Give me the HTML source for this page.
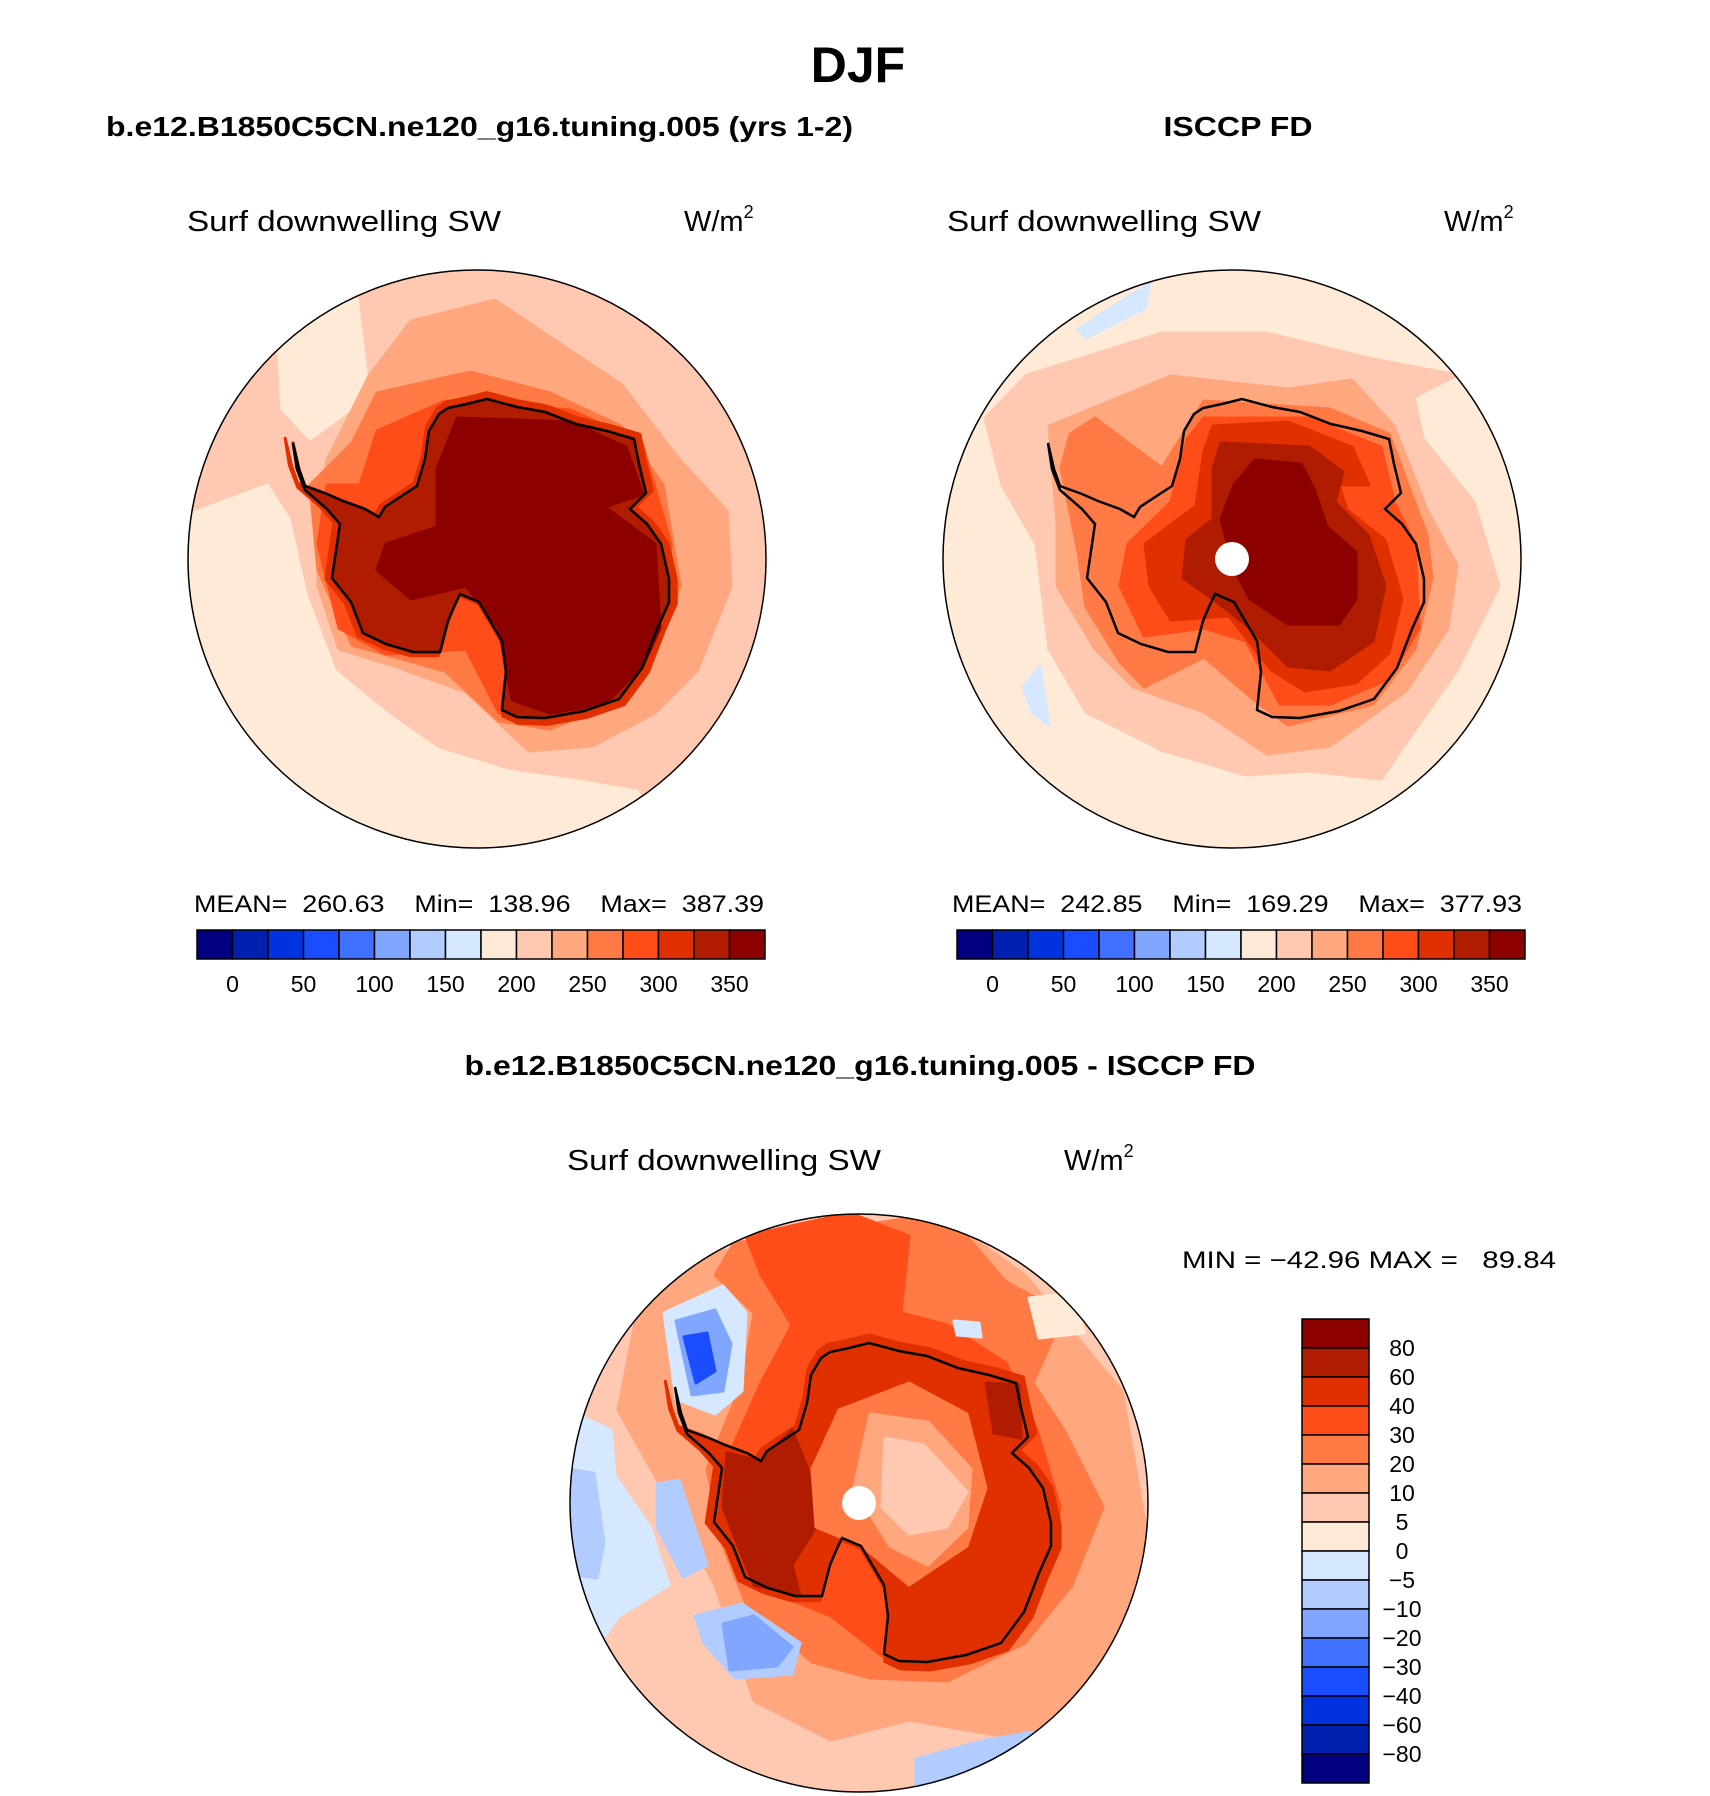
<!DOCTYPE html>
<html><head><meta charset="utf-8"><style>
html,body{margin:0;padding:0;background:#fff;}
svg{display:block;font-family:"Liberation Sans",sans-serif;}
.pre{white-space:pre;}
</style></head><body>
<svg id="root" width="1710" height="1796" viewBox="0 0 1710 1796" xmlns="http://www.w3.org/2000/svg" xml:space="preserve">
<defs>
<clipPath id="clipL"><circle cx="0" cy="0" r="289"/></clipPath>
</defs>
<text x="858" y="82" text-anchor="middle" font-size="50" font-weight="bold">DJF</text>
<text x="106" y="136" font-size="28" font-weight="bold" textLength="747" lengthAdjust="spacingAndGlyphs">b.e12.B1850C5CN.ne120_g16.tuning.005 (yrs 1-2)</text>
<text x="1238" y="136" text-anchor="middle" font-size="28" font-weight="bold" textLength="149" lengthAdjust="spacingAndGlyphs">ISCCP FD</text>

<text x="187" y="231" font-size="29" textLength="314" lengthAdjust="spacingAndGlyphs">Surf downwelling SW</text>
<text x="684" y="231" font-size="29">W/m<tspan font-size="18" dy="-13">2</tspan></text>
<text x="947" y="231" font-size="29" textLength="314" lengthAdjust="spacingAndGlyphs">Surf downwelling SW</text>
<text x="1444" y="231" font-size="29">W/m<tspan font-size="18" dy="-13">2</tspan></text>

<g id="mapL" transform="translate(477,559)"></g>
<g id="mapR" transform="translate(1232,559)"></g>

<text class="pre" x="194" y="912" font-size="24" textLength="570" lengthAdjust="spacingAndGlyphs">MEAN=  260.63    Min=  138.96    Max=  387.39</text>
<text class="pre" x="952" y="912" font-size="24" textLength="570" lengthAdjust="spacingAndGlyphs">MEAN=  242.85    Min=  169.29    Max=  377.93</text>

<g id="cbL"></g>
<g id="cbR"></g>

<text x="860" y="1075" text-anchor="middle" font-size="28" font-weight="bold" textLength="791" lengthAdjust="spacingAndGlyphs">b.e12.B1850C5CN.ne120_g16.tuning.005 - ISCCP FD</text>
<text x="567" y="1170" font-size="29" textLength="314" lengthAdjust="spacingAndGlyphs">Surf downwelling SW</text>
<text x="1064" y="1170" font-size="29">W/m<tspan font-size="18" dy="-13">2</tspan></text>
<text class="pre" x="1182" y="1268" font-size="24" textLength="374" lengthAdjust="spacingAndGlyphs">MIN = −42.96 MAX =   89.84</text>

<g id="mapD" transform="translate(859,1503)"></g>
<g id="cbD"></g>
</svg>
<script>
// ---- colour scales / colorbar data ----
const absColors = ["#000080","#0020b0","#0033e0","#1a4dff","#4070ff","#80a6ff","#b3ccff","#d6e8ff","#ffead8","#ffc8b0","#ffa880","#ff7a45","#ff4d1a","#e03000","#b01c00","#8c0000"];
const absLabels = ["0","50","100","150","200","250","300","350"];
const diffLabels = ["80","60","40","30","20","10","5","0","−5","−10","−20","−30","−40","−60","−80"];

// ---- map contour regions (local coordinates, px relative to pole) ----
const coast = [[-184,-116],[-178,-90],[-172,-73],[-150,-65],[-134,-58],[-112,-50],[-98,-42],[-92,-52],[-83,-58],[-60,-73],[-52,-100],[-48,-128],[-38,-145],[-29,-151],[-10,-155],[10,-160],[40,-152],[68,-147],[99,-135],[130,-128],[157,-120],[162,-95],[169,-66],[153,-50],[170,-35],[184,-15],[192,20],[192,43],[180,70],[165,109],[142,140],[107,152],[68,159],[40,158],[25,151],[29,113],[25,82],[2,43],[-17,35],[-24,50],[-29,62],[-37,93],[-64,93],[-91,85],[-114,74],[-126,43],[-145,19],[-137,-35],[-150,-50],[-172,-69],[-180,-90]];

const leftLayers = [
 ["#ffead8",[[-300,-40],[-210,-74],[-188,-40],[-171,36],[-142,112],[-91,154],[-40,190],[31,212],[94,221],[160,232],[200,300],[-300,300]]],
 ["#ffead8",[[-200,-230],[-120,-260],[-110,-180],[-126,-150],[-167,-120],[-195,-150]]],
 ["#ffa880",[[-66,-238],[18,-259],[94,-208],[144,-175],[203,-99],[250,-48],[254,27],[220,112],[178,154],[115,187],[52,192],[-11,133],[-83,107],[-138,90],[-159,27],[-159,-40],[-150,-99],[-108,-183]]],
 ["#ff7a45",[[-100,-166],[-7,-187],[73,-166],[144,-133],[186,-74],[203,27],[178,95],[136,145],[73,170],[22,162],[-32,112],[-125,86],[-159,11],[-167,-74],[-125,-116]]],
 ["#ff4d1a",[[-100,-128],[-32,-158],[94,-149],[165,-116],[194,-15],[186,69],[144,137],[73,162],[22,154],[-11,90],[-91,95],[-138,69],[-159,-15],[-150,-74],[-117,-74]]],
 ["#e03000","coast1.04"],
 ["#b01c00","coast"],
 ["#8c0000",[[-20,-141],[94,-137],[149,-112],[166,-65],[128,-52],[178,-15],[183,69],[166,107],[128,145],[73,154],[35,141],[22,69],[-11,27],[-66,40],[-100,11],[-91,-15],[-40,-32],[-40,-90]]]
];
const rightLayers = [
 ["#ffc8b0",[[-205,-184],[-70,-226],[35,-226],[141,-200],[225,-184],[182,-162],[191,-120],[242,-57],[267,27],[225,111],[149,220],[77,212],[14,216],[-70,191],[-146,153],[-183,90],[-196,-15],[-230,-74],[-247,-141]]],
 ["#d6e8ff",[[-154,-230],[-82,-276],[-87,-251],[-146,-221]]],
 ["#d6e8ff",[[-209,128],[-192,107],[-183,166],[-200,153]]],
 ["#ffa880",[[-183,-133],[-61,-183],[56,-170],[120,-179],[162,-133],[195,-49],[225,6],[216,69],[174,132],[98,187],[35,195],[-28,153],[-99,128],[-137,90],[-175,27],[-175,-36]]],
 ["#ff7a45",[[-162,-125],[-137,-141],[-70,-91],[-49,-125],[-28,-158],[98,-150],[157,-125],[195,-24],[200,19],[183,90],[141,145],[56,166],[22,141],[-28,98],[-88,128],[-112,103],[-146,48],[-154,-7],[-171,-91]]],
 ["#ff4d1a",[[-28,-141],[77,-141],[149,-112],[162,-57],[183,-15],[187,69],[157,120],[98,145],[48,145],[14,82],[-28,69],[-88,77],[-112,27],[-104,-15],[-61,-57],[-45,-120]]],
 ["#e03000",[[-19,-133],[56,-137],[120,-112],[137,-74],[107,-74],[115,-49],[153,-19],[170,40],[157,94],[124,124],[73,132],[39,111],[-3,57],[-61,61],[-82,27],[-87,-15],[-36,-53],[-28,-108]]],
 ["#b01c00",[[-11,-116],[77,-112],[111,-87],[103,-57],[136,-24],[153,27],[141,82],[98,111],[56,107],[18,69],[-19,40],[-49,19],[-45,-19],[-19,-40],[-19,-91]]],
 ["#8c0000",[[23,-99],[69,-95],[82,-70],[95,-32],[124,-7],[124,40],[107,65],[56,65],[18,40],[2,10],[-11,-40],[2,-74]]]
];
const diffLayers = [
 ["#ffa880",[[-164,-248],[88,-283],[166,-228],[263,-112],[290,43],[263,198],[166,237],[50,217],[-28,237],[-105,198],[-144,82],[-191,-4],[-241,-93],[-222,-190]]],
 ["#ff7a45",[[-125,-260],[88,-290],[147,-221],[205,-190],[174,-120],[205,-73],[244,4],[213,82],[166,140],[88,178],[11,175],[-47,159],[-113,101],[-136,43],[-152,-34],[-117,-120],[-105,-190],[-144,-228]]],
 ["#ff4d1a",[[-113,-267],[-9,-290],[50,-267],[42,-190],[88,-178],[147,-140],[178,-73],[201,4],[194,62],[166,121],[108,159],[31,159],[-28,113],[-97,85],[-124,43],[-136,-34],[-98,-120],[-67,-178],[-98,-228]]],
 ["#e03000","coast1.05"],
 ["#b01c00",[[-132,-50],[-98,-42],[-67,-73],[-51,-34],[-43,24],[-67,62],[-59,93],[-105,82],[-124,35],[-136,4]]],
 ["#b01c00",[[127,-120],[160,-118],[162,-65],[135,-70]]],
 ["#ff7a45",[[-20,-93],[50,-120],[108,-89],[127,-15],[108,43],[50,82],[3,43],[-43,24],[-47,-34]]],
 ["#ffa880",[[11,-89],[69,-81],[112,-34],[108,24],[69,62],[31,43],[-5,-15]]],
 ["#ffc8b0",[[26,-65],[65,-58],[108,-11],[88,24],[50,31],[23,4]]],
 ["#d6e8ff",[[-195,-190],[-136,-217],[-113,-190],[-117,-112],[-144,-89],[-183,-104]]],
 ["#80a6ff",[[-183,-182],[-144,-193],[-128,-159],[-136,-112],[-167,-108]]],
 ["#1a4dff",[[-175,-166],[-152,-170],[-144,-132],[-163,-120]]],
 ["#d6e8ff",[[-300,-97],[-248,-73],[-244,-27],[-209,24],[-190,82],[-240,113],[-253,132],[-300,140]]],
 ["#b3ccff",[[-300,-35],[-265,-30],[-255,40],[-262,75],[-300,70]]],
 ["#4070ff",[[-300,-110],[-282,-105],[-285,-85],[-300,-80]]],
 ["#b3ccff",[[-202,-19],[-180,-23],[-152,62],[-176,74],[-202,24]]],
 ["#b3ccff",[[-164,113],[-117,101],[-59,140],[-67,171],[-124,175],[-155,140]]],
 ["#80a6ff",[[-136,121],[-105,113],[-67,144],[-82,163],[-129,167]]],
 ["#b3ccff",[[57,256],[127,237],[174,229],[186,256],[88,300],[57,290]]],
 ["#d6e8ff",[[95,-182],[120,-180],[122,-166],[98,-168]]],
 ["#ffead8",[[170,-205],[215,-210],[225,-170],[180,-165]]]
];

const NS = "http://www.w3.org/2000/svg";
function scaleCoast(k){ return coast.map(p=>[10+(p[0]-10)*k, (p[1])*k]); }
function ptsStr(pts){ return pts.map(p=>p[0].toFixed(1)+","+p[1].toFixed(1)).join(" "); }

function drawMap(id, base, layers, pole){
  const g = document.getElementById(id);
  const inner = document.createElementNS(NS,"g");
  inner.setAttribute("clip-path","url(#clipL)");
  g.appendChild(inner);
  const bg = document.createElementNS(NS,"circle");
  bg.setAttribute("r","289"); bg.setAttribute("fill",base);
  
  
  inner.appendChild(bg);
  layers.forEach(L=>{
    let pts = L[1];
    if (typeof pts === "string") pts = pts==="coast" ? coast : scaleCoast(parseFloat(pts.slice(5)));
    const pg = document.createElementNS(NS,"polygon");
    pg.setAttribute("points", ptsStr(pts));
    pg.setAttribute("fill", L[0]);
    pg.setAttribute("stroke", L[0]);
    pg.setAttribute("stroke-width","3");
    pg.setAttribute("stroke-linejoin","round");
    
    
    inner.appendChild(pg);
  });
  const cl = document.createElementNS(NS,"polygon");
  cl.setAttribute("points", ptsStr(coast));
  cl.setAttribute("fill","none"); cl.setAttribute("stroke","#000"); cl.setAttribute("stroke-width","2.5");
  
  
  inner.appendChild(cl);
  if (pole){
    const d = document.createElementNS(NS,"circle");
    d.setAttribute("r","17"); d.setAttribute("fill","#fff");
    
    
    inner.appendChild(d);
  }
  const ring = document.createElementNS(NS,"circle");
  ring.setAttribute("r","289"); ring.setAttribute("fill","none"); ring.setAttribute("stroke","#000"); ring.setAttribute("stroke-width","1.5");
  
  
  g.appendChild(ring);
}
drawMap("mapL","#ffc8b0",leftLayers,false);
drawMap("mapR","#ffead8",rightLayers,true);
drawMap("mapD","#ffc8b0",diffLayers,true);

function hBar(id, x0, x1, y0, y1){
  const g = document.getElementById(id);
  const w = (x1-x0)/absColors.length;
  absColors.forEach((c,i)=>{
    const r = document.createElementNS(NS,"rect");
    r.setAttribute("x", x0+i*w); r.setAttribute("y", y0);
    r.setAttribute("width", w); r.setAttribute("height", y1-y0);
    r.setAttribute("fill", c); r.setAttribute("stroke","#000"); r.setAttribute("stroke-width","1.5");
    
    
    g.appendChild(r);
  });
  absLabels.forEach((t,i)=>{
    const tx = document.createElementNS(NS,"text");
    tx.setAttribute("x", x0+(1+2*i)*w); tx.setAttribute("y", y1+33);
    tx.setAttribute("text-anchor","middle"); tx.setAttribute("font-size","23");
    tx.textContent = t;
    
    
    g.appendChild(tx);
  });
}
hBar("cbL",197,765,930,959);
hBar("cbR",957,1525,930,959);

(function(){
  const g = document.getElementById("cbD");
  const x0=1302, x1=1369, y0=1319, y1=1783;
  const h = (y1-y0)/absColors.length;
  const rev = absColors.slice().reverse();
  rev.forEach((c,i)=>{
    const r = document.createElementNS(NS,"rect");
    r.setAttribute("x", x0); r.setAttribute("y", y0+i*h);
    r.setAttribute("width", x1-x0); r.setAttribute("height", h);
    r.setAttribute("fill", c); r.setAttribute("stroke","#000"); r.setAttribute("stroke-width","1.5");
    
    
    g.appendChild(r);
  });
  diffLabels.forEach((t,i)=>{
    const tx = document.createElementNS(NS,"text");
    tx.setAttribute("x", 1402); tx.setAttribute("y", y0+(i+1)*h+8);
    tx.setAttribute("text-anchor","middle"); tx.setAttribute("font-size","23");
    tx.textContent = t;
    
    
    g.appendChild(tx);
  });
})();
</script>
</body></html>
